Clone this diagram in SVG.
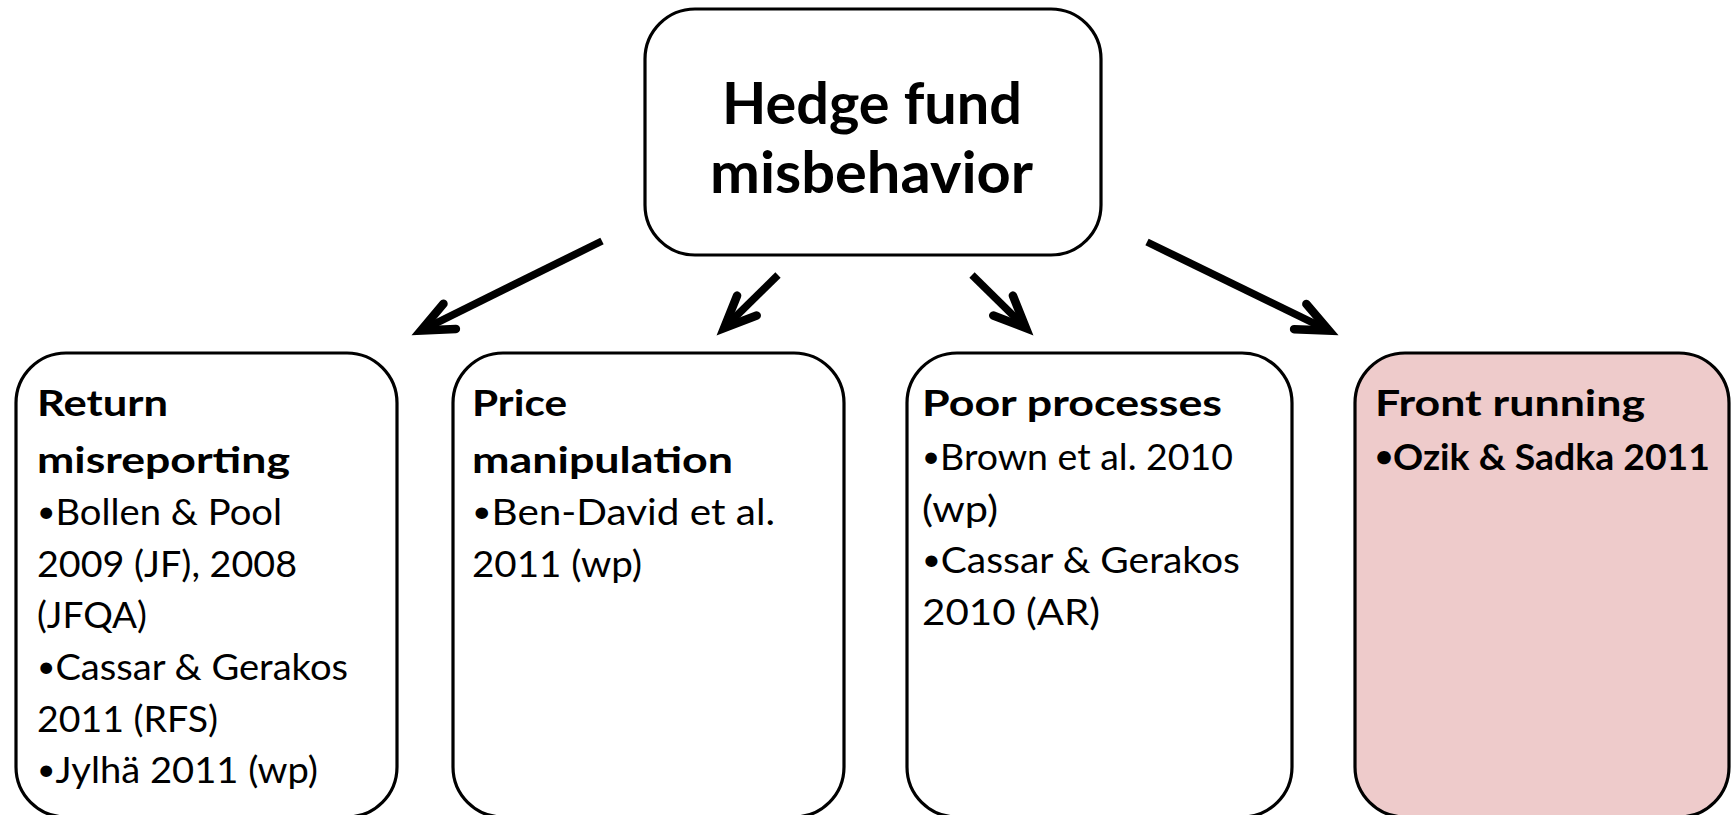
<svg xmlns="http://www.w3.org/2000/svg" width="1731" height="815" viewBox="0 0 1731 815">
<style>
.box{fill:#ffffff;stroke:#000000;stroke-width:3.2}
.pink{fill:#EECBCB}
.t{font-family:Lato,"Open Sans","Liberation Sans",sans-serif;fill:#000000}
.big{font-size:58px;font-weight:bold}
.h{font-size:37px;font-weight:bold}
.b{font-size:36px}
.bb{font-size:36px;font-weight:bold}
.dot{font-size:30px}
.arrow{fill:none;stroke:#000000;stroke-width:7.5;stroke-linecap:butt}
</style>
<defs>
<marker id="head" markerUnits="userSpaceOnUse" orient="auto" refX="0" refY="0" markerWidth="60" markerHeight="60" overflow="visible">
<path d="M-32,-14 L0,0 L-32,14" fill="none" stroke="#000000" stroke-width="8.5" stroke-linecap="round" stroke-linejoin="miter" stroke-miterlimit="10"/>
</marker>
</defs>
<g id="connectors">
<path class="arrow" d="M602,241 L421,330.6" marker-end="url(#head)"/>
<path class="arrow" d="M778,275 L724.1,328" marker-end="url(#head)"/>
<path class="arrow" d="M972,275 L1025.9,328" marker-end="url(#head)"/>
<path class="arrow" d="M1147,242 L1329,330.6" marker-end="url(#head)"/>
</g>
<g id="root">
<rect class="box" x="645" y="9" width="456" height="246" rx="50" ry="50"/>
<text class="t big" x="722" y="124" textLength="300" lengthAdjust="spacingAndGlyphs">Hedge fund</text>
<text class="t big" x="710" y="193" textLength="323" lengthAdjust="spacingAndGlyphs">misbehavior</text>
</g>
<g id="return-misreporting">
<rect class="box" x="16" y="353" width="381" height="464" rx="50" ry="50"/>
<text class="t h" x="37" y="416" textLength="131" lengthAdjust="spacingAndGlyphs">Return</text>
<text class="t h" x="37" y="473" textLength="253" lengthAdjust="spacingAndGlyphs">misreporting</text>
<text class="t b" x="37" y="525" textLength="245" lengthAdjust="spacingAndGlyphs"><tspan class="dot" dy="-3">•</tspan><tspan dy="3">Bollen &amp; Pool</tspan></text>
<text class="t b" x="37" y="577" textLength="260" lengthAdjust="spacingAndGlyphs">2009 (JF), 2008</text>
<text class="t b" x="37" y="628" textLength="110" lengthAdjust="spacingAndGlyphs">(JFQA)</text>
<text class="t b" x="37" y="680" textLength="311" lengthAdjust="spacingAndGlyphs"><tspan class="dot" dy="-3">•</tspan><tspan dy="3">Cassar &amp; Gerakos</tspan></text>
<text class="t b" x="37" y="732" textLength="181" lengthAdjust="spacingAndGlyphs">2011 (RFS)</text>
<text class="t b" x="37" y="783" textLength="281" lengthAdjust="spacingAndGlyphs"><tspan class="dot" dy="-3">•</tspan><tspan dy="3">Jylhä 2011 (wp)</tspan></text>
</g>
<g id="price-manipulation">
<rect class="box" x="453" y="353" width="391" height="464" rx="50" ry="50"/>
<text class="t h" x="472" y="416" textLength="95" lengthAdjust="spacingAndGlyphs">Price</text>
<text class="t h" x="472" y="473" textLength="261" lengthAdjust="spacingAndGlyphs">manipulation</text>
<text class="t b" x="472" y="525" textLength="303" lengthAdjust="spacingAndGlyphs"><tspan class="dot" dy="-3">•</tspan><tspan dy="3">Ben-David et al.</tspan></text>
<text class="t b" x="472" y="577" textLength="170" lengthAdjust="spacingAndGlyphs">2011 (wp)</text>
</g>
<g id="poor-processes">
<rect class="box" x="907" y="353" width="385" height="464" rx="50" ry="50"/>
<text class="t h" x="922" y="416" textLength="300" lengthAdjust="spacingAndGlyphs">Poor processes</text>
<text class="t b" x="922" y="470" textLength="311" lengthAdjust="spacingAndGlyphs"><tspan class="dot" dy="-3">•</tspan><tspan dy="3">Brown et al. 2010</tspan></text>
<text class="t b" x="922" y="522" textLength="76" lengthAdjust="spacingAndGlyphs">(wp)</text>
<text class="t b" x="922" y="573" textLength="318" lengthAdjust="spacingAndGlyphs"><tspan class="dot" dy="-3">•</tspan><tspan dy="3">Cassar &amp; Gerakos</tspan></text>
<text class="t b" x="922" y="625" textLength="178" lengthAdjust="spacingAndGlyphs">2010 (AR)</text>
</g>
<g id="front-running">
<rect class="box pink" x="1355" y="353" width="374" height="464" rx="50" ry="50"/>
<text class="t h" x="1375" y="416" textLength="270" lengthAdjust="spacingAndGlyphs">Front running</text>
<text class="t bb" x="1375" y="470" textLength="335" lengthAdjust="spacingAndGlyphs"><tspan class="dot" dy="-3">•</tspan><tspan dy="3">Ozik &amp; Sadka 2011</tspan></text>
</g>
</svg>
